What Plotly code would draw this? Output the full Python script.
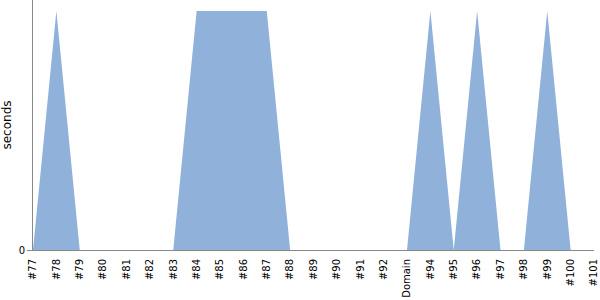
import plotly.graph_objects as go

categories = ["#77", "#78", "#79", "#80", "#81", "#82", "#83", "#84", "#85", "#86",
              "#87", "#88", "#89", "#90", "#91", "#92", "Domain", "#94", "#95", "#96",
              "#97", "#98", "#99", "#100", "#101"]
seconds = [0, 1, 0, 0, 0, 0, 0, 1, 1, 1,
           1, 0, 0, 0, 0, 0, 0, 1, 0, 1,
           0, 0, 1, 0, 0]

fig = go.Figure()
fig.add_trace(go.Scatter(
    x=categories, y=seconds, mode="lines", fill="tozeroy",
    line=dict(width=0, color="#8FB1DA"), fillcolor="#8FB1DA",
    hoverinfo="skip", showlegend=False,
))

fig.update_layout(
    width=600, height=300,
    margin=dict(l=33, r=6, t=0, b=50),
    paper_bgcolor="white", plot_bgcolor="white",
    font=dict(family="DejaVu Sans", size=10, color="black"),
    xaxis=dict(
        type="category", range=[0, 24], showgrid=False, zeroline=False,
        showline=True, linecolor="#888888", linewidth=1,
        tickangle=-90, ticks="outside", ticklen=4, tickcolor="rgba(0,0,0,0)",
        tickfont=dict(size=10),
    ),
    yaxis=dict(
        range=[0, 250 / 239], showgrid=False, zeroline=False,
        showline=True, linecolor="#888888", linewidth=1,
        tickvals=[0], ticktext=["0"], ticks="outside", ticklen=5,
        tickcolor="#888888", tickfont=dict(size=10),
        title=dict(text="seconds", font=dict(size=12), standoff=4),
    ),
)

fig.write_html("out.html")
